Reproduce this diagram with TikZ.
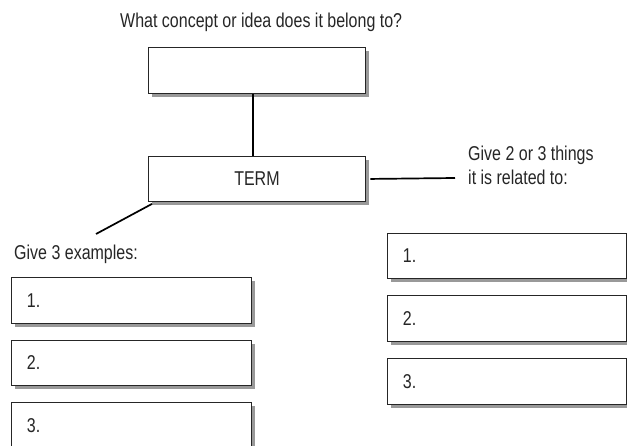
\documentclass[tikz,border=0pt]{standalone}
\usepackage{fontspec}
\setmainfont{Liberation Sans}[FakeStretch=0.80]
\usetikzlibrary{shadows}
\begin{document}
\begin{tikzpicture}[x=1pt,y=-1pt,
  every node/.style={text=black!85, font=\fontsize{20}{24}\selectfont},
  box/.style={draw=black!85, line width=0.9pt, fill=white, inner sep=0pt, anchor=north west,
    drop shadow={shadow xshift=3.5pt, shadow yshift=-3.5pt, fill=black!40, opacity=1}},
  numbox/.style={box, align=left, inner xsep=15.5pt},
  conn/.style={line width=1.7pt, black}]
\useasboundingbox (0,0) rectangle (627,446);
% labels
\node[anchor=base west, inner sep=0pt] (qtop) at (120,28) {What concept or idea does it belong to?};
\node[anchor=base west, inner sep=0pt, align=left] (qrel) at (468,185) {Give 2 or 3 things\\it is related to:};
\node[anchor=base west, inner sep=0pt] (qex) at (14,260) {Give 3 examples:};
% boxes
\node[box, minimum width=217pt, minimum height=46pt] (top) at (148,47) {};
\node[box, minimum width=217pt, minimum height=45pt] (term) at (148,156) {TERM};
\node[numbox, text width=209pt, minimum height=46pt] (l1) at (11,277) {1.};
\node[numbox, text width=209pt, minimum height=45pt] (l2) at (11,340) {2.};
\node[numbox, text width=209pt, minimum height=46pt] (l3) at (11,402) {3.};
\node[numbox, text width=207.5pt, minimum height=45pt] (r1) at (387,233) {1.};
\node[numbox, text width=207.5pt, minimum height=46pt] (r2) at (387,295) {2.};
\node[numbox, text width=207.5pt, minimum height=46pt] (r3) at (387,358) {3.};
% connectors
\coordinate (relend) at (455,178);
\coordinate (exend) at (96,234);
\draw[conn] ([xshift=-4pt]top.south) -- ([xshift=-4pt]term.north);
\draw[conn] ([xshift=4.5pt]term.east) -- (relend);
\draw[conn] ([shift={(4,2)}]term.south west) -- (exend);
\end{tikzpicture}
\end{document}
